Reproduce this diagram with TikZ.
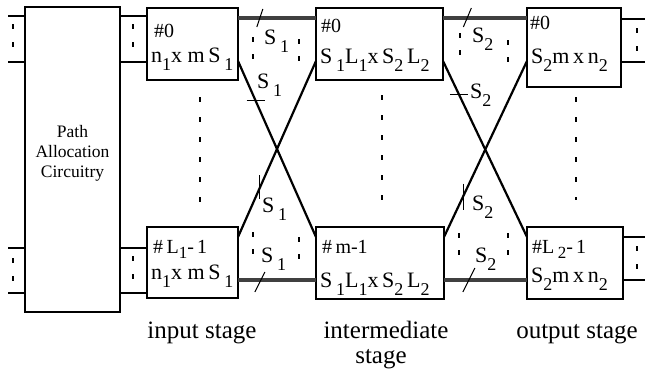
\documentclass[tikz,border=0pt]{standalone}
\usepackage{fontspec}
\setmainfont{Liberation Serif}
\usetikzlibrary{calc}
\newcommand{\sbs}[1]{\raisebox{-8pt}{\fontsize{18}{18}\selectfont #1}}
\newcommand{\sbh}[1]{\raisebox{-5pt}{\fontsize{17}{17}\selectfont #1}}
\begin{document}
\begin{tikzpicture}[x=1pt,y=-1pt,
  box/.style={draw, line width=1.3pt, inner sep=0pt, outer sep=0pt, anchor=north west},
  pabox/.style={draw, line width=2.2pt, inner sep=0pt, outer sep=0pt, anchor=north west},
  stub/.style={line width=1.3pt},
  bus/.style={line width=3.2pt, black!75},
  cross/.style={line width=2.2pt},
  tick/.style={line width=1pt},
  sdots/.style={line width=1.1pt, dash pattern=on 5pt off 13pt},
  gdots/.style={line width=1.1pt, dash pattern=on 5pt off 12pt},
  vdots/.style={line width=1.1pt, dash pattern=on 5pt off 15pt},
  hash/.style={font=\fontsize{20}{20}\selectfont, inner sep=0pt, anchor=base west},
  big/.style={font=\fontsize{22}{22}\selectfont, inner sep=0pt, anchor=base west},
  slbl/.style={font=\fontsize{22}{22}\selectfont, inner sep=0pt, anchor=base west},
  stage/.style={font=\fontsize{25}{25}\selectfont, inner sep=0pt, anchor=base}]
\useasboundingbox (0,0) rectangle (645,372);

% boxes
\node[pabox, minimum width=95pt, minimum height=305pt] (pa) at (25,7) {};
\node[box, minimum width=91pt, minimum height=72pt] (in0) at (147,8) {};
\node[box, minimum width=91pt, minimum height=71pt] (inL) at (147,227) {};
\node[box, minimum width=127pt, minimum height=72pt] (mid0) at (316,8) {};
\node[box, minimum width=128pt, minimum height=72pt] (midm) at (316,227) {};
\node[box, minimum width=94pt, minimum height=79pt] (out0) at (527,8) {};
\node[box, minimum width=96pt, minimum height=72pt] (outL) at (527,227) {};

% path allocation text
\node[font=\fontsize{17.5}{20}\selectfont, align=center, inner sep=0pt, anchor=north] (patxt) at (72.5,125) {Path\\Allocation\\Circuitry};

% box texts
\node[hash] (in0h) at (154,37) {\#0};
\node[big] (in0t) at (151,62) {n\sbs{1}x m\,S\,\sbs{1}};
\node[hash] (inLh) at (153,253) {\#\,L\sbh{1}-\,1};
\node[big] (inLt) at (151,279) {n\sbs{1}x m\,S\,\sbs{1}};
\node[hash] (mid0h) at (321,32) {\#0};
\node[big] (mid0t) at (320,63) {S\,\sbs{1}L\sbs{1}x\,S\sbs{2}\,L\sbs{2}};
\node[hash] (midmh) at (322,253) {\#\,m-1};
\node[big] (midmt) at (320,287) {S\,\sbs{1}L\sbs{1}x\,S\sbs{2}\,L\sbs{2}};
\node[hash] (out0h) at (530,29) {\#0};
\node[big] (out0t) at (531,63) {S\sbs{2}m\,x\,n\sbs{2}};
\node[hash] (outLh) at (532,253) {\#L\,\sbh{2}-\,1};
\node[big] (outLt) at (531,282) {S\sbs{2}m\,x\,n\sbs{2}};

% level coordinates
\coordinate (yT1) at (0,16);
\coordinate (yT2) at (0,62);
\coordinate (yB1) at (0,248);
\coordinate (yB2) at (0,293);
\coordinate (yBus) at (0,18);
\coordinate (yBusB) at (0,280);
\coordinate (yCt) at (0,61);
\coordinate (yCb) at (0,237);

% left outer stubs
\coordinate (lo1) at (8,16);
\coordinate (lo2) at (8,62);
\coordinate (lo3) at (8,248);
\coordinate (lo4) at (8,293);
\draw[stub] (lo1) -- (lo1 -| pa.west);
\draw[stub] (lo2) -- (lo2 -| pa.west);
\draw[stub] (lo3) -- (lo3 -| pa.west);
\draw[stub] (lo4) -- (lo4 -| pa.west);
% PA to input stage
\draw[stub] (pa.east |- yT1) -- (in0.west |- yT1);
\draw[stub] (pa.east |- yT2) -- (in0.west |- yT2);
\draw[stub] (pa.east |- yB1) -- (inL.west |- yB1);
\draw[stub] (pa.east |- yB2) -- (inL.west |- yB2);
% right outer stubs
\coordinate (ro1) at (645,19);
\coordinate (ro2) at (645,62);
\coordinate (ro3) at (645,237);
\coordinate (ro4) at (645,280);
\draw[stub] (out0.east |- ro1) -- (ro1);
\draw[stub] (out0.east |- ro2) -- (ro2);
\draw[stub] (outL.east |- ro3) -- (ro3);
\draw[stub] (outL.east |- ro4) -- (ro4);

% stub dots
\coordinate (sd1a) at (13,24); \coordinate (sd1b) at (13,54);
\coordinate (sd2a) at (133,24); \coordinate (sd2b) at (133,54);
\coordinate (sd3a) at (13,258); \coordinate (sd3b) at (13,285);
\coordinate (sd4a) at (133,256); \coordinate (sd4b) at (133,285);
\coordinate (sd5a) at (637,28); \coordinate (sd5b) at (637,56);
\coordinate (sd6a) at (637,246); \coordinate (sd6b) at (637,274);
\draw[sdots] (sd1a) -- (sd1b);
\draw[sdots] (sd2a) -- (sd2b);
\draw[sdots] (sd3a) -- (sd3b);
\draw[sdots] (sd4a) -- (sd4b);
\draw[sdots] (sd5a) -- (sd5b);
\draw[sdots] (sd6a) -- (sd6b);

% buses between stages
\draw[bus] (in0.east |- yBus) -- coordinate[pos=0.28] (sl1) (mid0.west |- yBus);
\draw[bus] (inL.east |- yBusB) -- coordinate[pos=0.28] (sl2) (midm.west |- yBusB);
\draw[bus] (mid0.east |- yBus) -- coordinate[pos=0.29] (sl3) (out0.west |- yBus);
\draw[bus] (midm.east |- yBusB) -- coordinate[pos=0.30] (sl4) (outL.west |- yBusB);
\draw[tick] ($(sl1)+(-3,9)$) -- ($(sl1)+(3,-9)$);
\draw[tick] ($(sl2)+(-5,12)$) -- ($(sl2)+(5,-8)$);
\draw[tick] ($(sl3)+(-4,9)$) -- ($(sl3)+(4,-10)$);
\draw[tick] ($(sl4)+(-6,12)$) -- ($(sl4)+(6,-12)$);

% crossing links
\draw[cross] (in0.east |- yCt) -- coordinate[pos=0.226] (tk1) (midm.west |- yCb);
\draw[cross] (inL.east |- yCb) -- coordinate[pos=0.27] (tk2) (mid0.west |- yCt);
\draw[cross] (mid0.east |- yCt) -- coordinate[pos=0.19] (tk3) (outL.west |- yCb);
\draw[cross] (midm.east |- yCb) -- coordinate[pos=0.23] (tk4) (out0.west |- yCt);
\draw[tick] ($(tk1)+(-9,0)$) -- ($(tk1)+(9,0)$);
\draw[tick] ($(tk2)+(0,-14)$) -- ($(tk2)+(0,10)$);
\draw[tick] ($(tk3)+(-9,0)$) -- ($(tk3)+(9,0)$);
\draw[tick] ($(tk4)+(0,-13)$) -- ($(tk4)+(0,13)$);

% group dots between stages
\coordinate (g1a) at (253,37); \coordinate (g1b) at (253,64);
\coordinate (g2a) at (299,39); \coordinate (g2b) at (299,64);
\coordinate (g3a) at (460,33); \coordinate (g3b) at (460,63);
\coordinate (g4a) at (508,40); \coordinate (g4b) at (508,64);
\coordinate (g5a) at (253,232); \coordinate (g5b) at (253,263);
\coordinate (g6a) at (299,237); \coordinate (g6b) at (299,263);
\coordinate (g7a) at (459,233); \coordinate (g7b) at (459,263);
\coordinate (g8a) at (508,233); \coordinate (g8b) at (508,263);
\foreach \a/\b in {g1a/g1b,g2a/g2b,g3a/g3b,g4a/g4b,g5a/g5b,g6a/g6b,g7a/g7b,g8a/g8b}
  \draw[gdots] (\a) -- (\b);

% vertical dot columns
\coordinate (v1a) at (200,97); \coordinate (v1b) at (200,207);
\coordinate (v2a) at (382,95); \coordinate (v2b) at (382,205);
\coordinate (v3a) at (576,97); \coordinate (v3b) at (576,200);
\draw[vdots] (v1a) -- (v1b);
\draw[vdots] (v2a) -- (v2b);
\draw[vdots] (v3a) -- (v3b);

% S labels
\node[slbl] (s1top) at (264,44) {S\,\sbs{1}};
\node[slbl] (s1cu) at (257,88) {S\,\sbs{1}};
\node[slbl] (s1cl) at (262,212) {S\,\sbs{1}};
\node[slbl] (s1bot) at (261,262) {S\,\sbs{1}};
\node[slbl] (s2top) at (472,42) {S\sbs{2}};
\node[slbl] (s2cu) at (470,98) {S\sbs{2}};
\node[slbl] (s2cl) at (472,210) {S\sbs{2}};
\node[slbl] (s2bot) at (475,262) {S\sbs{2}};

% stage labels
\node[stage] (lin) at (202,338) {input stage};
\node[stage] (lmid1) at (386,338) {intermediate};
\node[stage] (lmid2) at (381,363) {stage};
\node[stage] (lout) at (577,338) {output stage};
\end{tikzpicture}
\end{document}
